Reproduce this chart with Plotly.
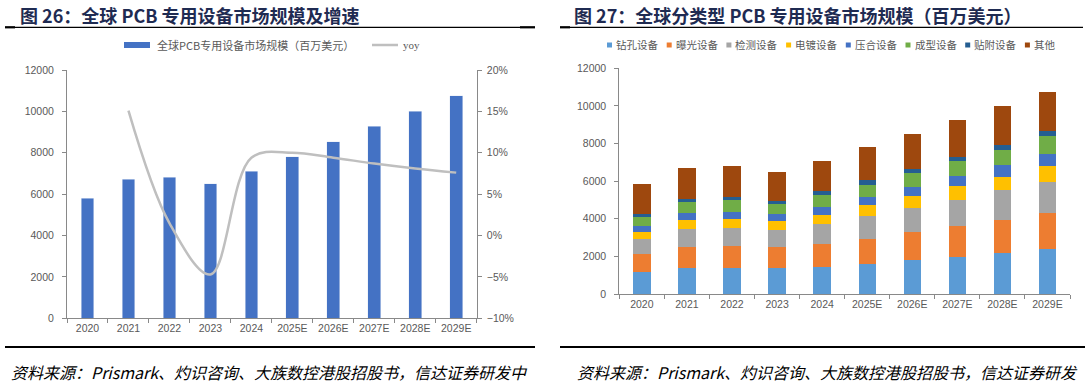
import plotly.graph_objects as go

W, H = 1090, 387

# ---------------- data ----------------
years = ["2020", "2021", "2022", "2023", "2024", "2025E", "2026E", "2027E", "2028E", "2029E"]
market = [5810, 6720, 6820, 6500, 7110, 7800, 8530, 9270, 10000, 10760]
yoy = [None, 15.1, 1.5, -4.7, 9.4, 10.0, 9.4, 8.7, 8.1, 7.6]

seg_names = ["钻孔设备", "曝光设备", "检测设备", "电镀设备", "压合设备", "成型设备", "贴附设备", "其他"]
drill = [1150, 1380, 1380, 1380, 1450, 1595, 1810, 1985, 2180, 2375]
exposure = [960, 1135, 1170, 1100, 1205, 1350, 1470, 1630, 1775, 1950]
inspect = [830, 940, 960, 940, 1065, 1205, 1295, 1400, 1575, 1650]
plating = [355, 460, 480, 440, 495, 565, 640, 710, 710, 830]
press = [320, 410, 390, 390, 425, 445, 495, 550, 620, 640]
forming = [460, 565, 600, 550, 620, 655, 710, 780, 815, 975]
attach = [160, 160, 180, 160, 195, 230, 250, 250, 250, 230]
other = [1600, 1665, 1630, 1510, 1630, 1755, 1825, 1950, 2055, 2110]
seg_values = [drill, exposure, inspect, plating, press, forming, attach, other]
seg_colors = ["#5B9BD5", "#ED7D31", "#A5A5A5", "#FFC000", "#4472C4", "#70AD47", "#255E91", "#9E480E"]

title_left = "图 26：全球 PCB 专用设备市场规模及增速"
title_right = "图 27：全球分类型 PCB 专用设备市场规模（百万美元）"
legend_left = ["全球PCB专用设备市场规模（百万美元）", "yoy"]
source_left = "资料来源：Prismark、灼识咨询、大族数控港股招股书，信达证券研发中"
source_right = "资料来源：Prismark、灼识咨询、大族数控港股招股书，信达证券研发"


def px(x):
    return x / W


def py(y):
    return 1 - y / H


AX = "#898989"
TXT = "#595959"
TFONT = dict(family="Liberation Sans, Arial, sans-serif", size=10.5, color=TXT)
CJK = "Noto Sans CJK SC"

fig = go.Figure()

# left chart
fig.add_trace(go.Bar(x=years, y=market, name=legend_left[0], marker_color="#4472C4",
                     width=0.31, xaxis="x", yaxis="y", showlegend=False))
fig.add_trace(go.Scatter(x=years, y=yoy, name=legend_left[1], mode="lines",
                         line=dict(color="#BFBFBF", width=2.5, shape="spline", smoothing=1.0),
                         xaxis="x", yaxis="y2", showlegend=False, connectgaps=False))

# right chart
for name, vals, col in zip(seg_names, seg_values, seg_colors):
    fig.add_trace(go.Bar(x=years, y=vals, name=name, marker_color=col, width=0.385,
                         marker_line_width=0, xaxis="x3", yaxis="y3", showlegend=False))

axis_common = dict(showline=True, linecolor=AX, linewidth=1, showgrid=False, zeroline=False,
                   ticks="outside", tickcolor=AX, ticklen=4, tickfont=TFONT, automargin=False)

fig.update_layout(
    width=W, height=H, margin=dict(l=0, r=0, t=0, b=0, pad=0, autoexpand=False),
    paper_bgcolor="white", plot_bgcolor="white", barmode="stack",
    xaxis=dict(domain=[px(67), px(476.7)], anchor="y", type="category",
               tickson="boundaries", **axis_common),
    yaxis=dict(domain=[py(318.3), py(70)], anchor="x", range=[0, 12000], dtick=2000,
               tickformat="d", ticklabelstandoff=6, **axis_common),
    yaxis2=dict(overlaying="y", side="right", anchor="x", range=[-10, 20], dtick=5,
                ticksuffix="%", ticklabelstandoff=3, **axis_common),
    xaxis3=dict(domain=[px(619.3), px(1070)], anchor="y3", type="category",
                tickson="boundaries", **axis_common),
    yaxis3=dict(domain=[py(294), py(68.3)], anchor="x3", range=[0, 12000], dtick=2000,
                tickformat="d", ticklabelstandoff=6, **axis_common),
)

shapes = []
annotations = []

# titles
for x0, t in [(18, title_left), (572, title_right)]:
    annotations.append(dict(x=px(x0), y=py(15), xref="paper", yref="paper", text="<b>%s</b>" % t,
                            showarrow=False, xanchor="left", yanchor="middle",
                            font=dict(family=CJK, size=18, color="#1F2B52")))

# title underlines
for x0, x1 in [(5, 535), (560, 1083)]:
    shapes.append(dict(type="line", xref="paper", yref="paper", x0=px(x0), x1=px(x1),
                       y0=py(27.3), y1=py(27.3), line=dict(color="black", width=1.2)))
for x0, x1 in [(5, 15), (520, 535), (560, 570)]:
    shapes.append(dict(type="line", xref="paper", yref="paper", x0=px(x0), x1=px(x1),
                       y0=py(27.3), y1=py(27.3), line=dict(color="black", width=2.2)))

# bottom lines
for x0, x1 in [(5, 535), (560, 1085)]:
    shapes.append(dict(type="line", xref="paper", yref="paper", x0=px(x0), x1=px(x1),
                       y0=py(347), y1=py(347), line=dict(color="black", width=2.2)))

# sources
for x0, t in [(9, source_left), (575, source_right)]:
    annotations.append(dict(x=px(x0), y=py(372), xref="paper", yref="paper",
                            text="<i>%s</i>" % t, showarrow=False, xanchor="left", yanchor="middle",
                            font=dict(family=CJK, size=16, color="black")))

# left legend
shapes.append(dict(type="rect", xref="paper", yref="paper", x0=px(124), x1=px(150),
                   y0=py(48), y1=py(42), fillcolor="#4472C4", line=dict(width=0)))
annotations.append(dict(x=px(155), y=py(45), xref="paper", yref="paper", text=legend_left[0],
                        showarrow=False, xanchor="left", yanchor="middle",
                        font=dict(family=CJK, size=11, color=TXT)))
shapes.append(dict(type="line", xref="paper", yref="paper", x0=px(372), x1=px(398),
                   y0=py(45), y1=py(45), line=dict(color="#BFBFBF", width=2.5)))
annotations.append(dict(x=px(401), y=py(45), xref="paper", yref="paper", text=legend_left[1],
                        showarrow=False, xanchor="left", yanchor="middle",
                        font=dict(family="Liberation Serif, serif", size=11, color=TXT)))

# right legend
for i, (name, col) in enumerate(zip(seg_names, seg_colors)):
    x0 = 607 + 59.7 * i
    shapes.append(dict(type="rect", xref="paper", yref="paper", x0=px(x0), x1=px(x0 + 5),
                       y0=py(47.5), y1=py(42.5), fillcolor=col, line=dict(width=0)))
    annotations.append(dict(x=px(x0 + 7), y=py(45), xref="paper", yref="paper", text=name,
                            showarrow=False, xanchor="left", yanchor="middle",
                            font=dict(family=CJK, size=10.5, color=TXT)))

fig.update_layout(shapes=shapes, annotations=annotations)

fig.write_html("out.html", config={"displayModeBar": False},
               post_script="document.body.style.margin='0';document.body.style.overflow='hidden';")
